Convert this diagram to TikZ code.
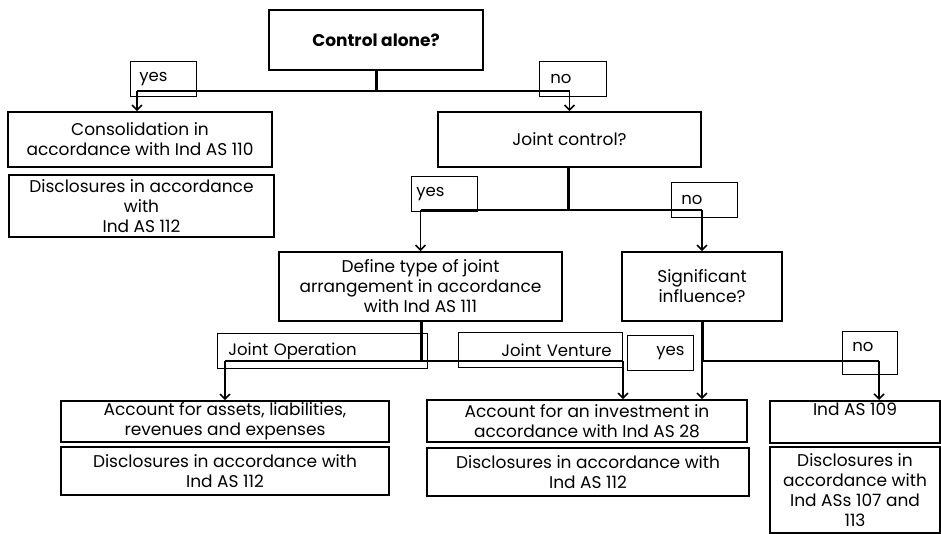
\documentclass[tikz,border=0pt]{standalone}
\usepackage{fontspec}
\setmainfont{Poppins}
\usetikzlibrary{arrows.meta}
\begin{document}
\begin{tikzpicture}[x=1pt,y=-1pt,
  box/.style={draw, line width=1.6pt, align=center, inner sep=1pt, font=\fontsize{17}{20}\selectfont},
  lbl/.style={draw, line width=0.8pt, anchor=north west, inner xsep=0pt, inner ysep=0pt, align=left, text width=#1, minimum width=#1, font=\fontsize{16.5}{18}\selectfont},
  conn/.style={line width=1.8pt},
  trunk/.style={line width=3pt},
  arr/.style={line width=1.8pt, -{Straight Barb[length=5pt,width=10pt,line width=1.6pt]}}
]
\useasboundingbox (0,0) rectangle (941,534);
% main boxes
\node[box, minimum width=214pt, minimum height=60pt] (ctrl) at (376,40) {\textbf{Control alone?}};
\node[box, minimum width=264pt, minimum height=55pt] (cons) at (140,139.5) {Consolidation in\\accordance with Ind AS 110};
\node[box, minimum width=265pt, minimum height=62pt] (disc1) at (141.5,206) {Disclosures in accordance\\with\\Ind AS 112};
\node[box, minimum width=263pt, minimum height=55pt] (joint) at (569.5,139.5) {Joint control?};
\node[box, minimum width=283pt, minimum height=69pt] (define) at (420.5,286.5) {Define type of joint\\arrangement in accordance\\with Ind AS 111};
\node[box, minimum width=160pt, minimum height=69pt] (sig) at (702,286.5) {Significant\\influence?};
\node[box, minimum width=328pt, minimum height=41pt] (acc1) at (225,421.5) {Account for assets, liabilities,\\revenues and expenses};
\node[box, minimum width=328pt, minimum height=48pt] (disc2) at (225,471) {Disclosures in accordance with\\Ind AS 112};
\node[box, minimum width=320pt, minimum height=42pt] (acc2) at (587,421) {Account for an investment in\\accordance with Ind AS 28};
\node[box, minimum width=322pt, minimum height=48pt] (disc3) at (588,472) {Disclosures in accordance with\\Ind AS 112};
\node[box, minimum width=170pt, minimum height=42pt, text height=12pt, text depth=24pt, anchor=north] (ind) at (855,400) {Ind AS 109};
\node[box, minimum width=170pt, minimum height=86pt] (disc4) at (855,490) {Disclosures in\\accordance with\\Ind ASs 107 and\\113};
% label boxes
\node[lbl=66pt, minimum height=35pt] (yes1) at (130,61) {\hspace{9pt}yes};
\node[lbl=67pt, minimum height=35pt] (no1) at (539,61) {\hspace{11pt}no};
\node[lbl=66pt, minimum height=35pt] (yes2) at (411,176) {\hspace{5pt}yes};
\node[lbl=66pt, minimum height=35pt] (no2) at (671,182) {\hspace{10pt}no};
\node[lbl=210pt, minimum height=35pt] (jop) at (217,333) {\hspace{11pt}Joint Operation};
\node[lbl=164pt, minimum height=35pt] (jv) at (458,332) {\hspace{43pt}Joint Venture};
\node[lbl=66pt, minimum height=35pt] (yes3) at (627,335) {\hspace{29pt}yes};
\node[lbl=55pt, minimum height=43pt, text height=20pt, text depth=23pt] (no3) at (842,331) {\hspace{10pt}no};
% junction coordinates
\coordinate (j1) at (376,91);
\coordinate (j2) at (568,210);
\coordinate (j3) at (421,361);
\coordinate (j4) at (702,361);
\coordinate (jv1) at (623,361);
\coordinate (nx) at (879,361);
% connectors
\draw[trunk] (ctrl.south) -- (j1);
\draw[conn] ([xshift=-3pt]cons.north |- j1) -- (joint.north |- j1);
\draw[arr] ([xshift=-3pt]cons.north |- j1) -- ([xshift=-3pt]cons.north);
\draw[arr] (joint.north |- j1) -- (joint.north);
\draw[trunk] (joint.south -| j2) -- (j2);
\draw[conn] (define.north |- j2) -- (sig.north |- j2);
\draw[arr] (define.north |- j2) -- (define.north);
\draw[arr] (sig.north |- j2) -- (sig.north);
\draw[trunk] (define.south -| j3) -- (j3);
\draw[conn] (acc1.north |- j3) -- (jv1);
\draw[arr] (acc1.north |- j3) -- (acc1.north);
\draw[arr] (jv1) -- (jv1 |- acc2.north);
\draw[trunk] (sig.south) -- (j4);
\draw[conn] (j4) -- (nx);
\draw[arr] (j4) -- (j4 |- acc2.north);
\draw[arr] (nx) -- (nx |- ind.north);
\end{tikzpicture}
\end{document}
